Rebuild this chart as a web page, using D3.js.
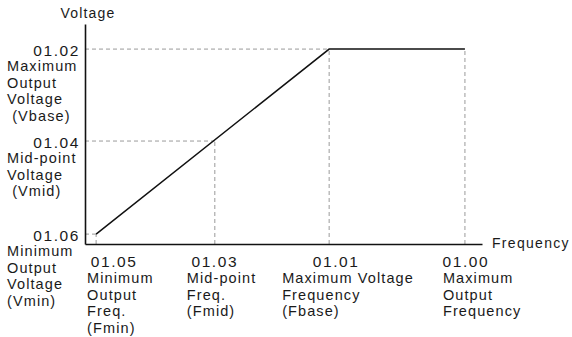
<!DOCTYPE html>
<html>
<head>
<meta charset="utf-8">
<script src="https://cdn.jsdelivr.net/npm/d3@7"></script>
<style>
  html, body { margin: 0; padding: 0; background: #fff; }
  svg { display: block; }
  text { font-family: "Liberation Sans", Arial, sans-serif; fill: #1a1a1a; }
</style>
</head>
<body>
<svg id="chart" width="572" height="337"></svg>
<script>
// ---- data ----
const freqCodes = ["01.05", "01.03", "01.01", "01.00"];
const freqValues = [2.8, 32.7, 61.5, 95.7];
const freqDesc = [
  ["Minimum", "Output", "Freq.", "(Fmin)"],
  ["Mid-point", "Freq.", "(Fmid)"],
  ["Maximum Voltage", "Frequency", "(Fbase)"],
  ["Maximum", "Output", "Frequency"]
];
const voltCodes = ["01.06", "01.04", "01.02"];
const voltValues = [4.5, 46.8, 88.6];
const voltDesc = [
  ["Minimum", "Output", "Voltage", "(Vmin)"],
  ["Mid-point", "Voltage", "(Vmid)"],
  ["Maximum", "Output", "Voltage", "(Vbase)"]
];
// V/f curve points: (frequency, voltage)
const curveFreq = [2.8, 61.5, 95.7];
const curveVolt = [4.5, 88.6, 88.6];
const xAxisTitle = "Frequency";
const yAxisTitle = "Voltage";

// ---- layout (not data) ----
const codeDx = [18, 0, 7, 1];       // horizontal shift of freq code label centers
const descDx = [-9, -28, -47, -22]; // left offset of freq description blocks

const svg = d3.select("#chart");
const x = d3.scaleLinear().domain([0, 100]).range([85, 482]);
const y = d3.scaleLinear().domain([0, 100]).range([244, 24]);

const dashColor = "#9a9a9a";

// dashed guide lines
const guides = svg.append("g")
  .attr("stroke", dashColor).attr("stroke-width", 1)
  .attr("stroke-dasharray", "4,3").attr("fill", "none");

voltValues.forEach((v, i) => {
  guides.append("line")
    .attr("x1", x(0)).attr("x2", x(freqValues[i]))
    .attr("y1", y(v)).attr("y2", y(v));
});
const vAt = [voltValues[0], voltValues[1], voltValues[2], voltValues[2]];
freqValues.forEach((f, i) => {
  guides.append("line")
    .attr("x1", x(f)).attr("x2", x(f))
    .attr("y1", y(0)).attr("y2", y(vAt[i]));
});

// axes (plain lines)
const xAxis = d3.axisBottom(x).tickValues([]).tickSize(0).tickSizeOuter(0);
const yAxis = d3.axisLeft(y).tickValues([]).tickSize(0).tickSizeOuter(0);
const gx = svg.append("g").attr("transform", `translate(0,${y(0)})`).call(xAxis);
const gy = svg.append("g").attr("transform", `translate(${x(0)},0)`).call(yAxis);
[gx, gy].forEach(g => g.select(".domain").attr("stroke", "#111").attr("stroke-width", 1.6));

// curve
const pts = curveFreq.map((f, i) => [f, curveVolt[i]]);
svg.append("path")
  .datum(pts)
  .attr("fill", "none").attr("stroke", "#111").attr("stroke-width", 1.5)
  .attr("d", d3.line().x(d => x(d[0])).y(d => y(d[1])));

// axis titles
svg.append("text").attr("x", 88).attr("y", 18).attr("text-anchor", "middle")
  .style("font-size", "14px").style("letter-spacing", "1.2px").text(yAxisTitle);
svg.append("text").attr("x", 492).attr("y", 248)
  .style("font-size", "14px").style("letter-spacing", "1.3px").text(xAxisTitle);

// voltage labels (left)
voltValues.forEach((v, i) => {
  const base = y(v) + 7;
  svg.append("text").attr("x", 80).attr("y", base).attr("text-anchor", "end")
    .style("font-size", "15.5px").style("letter-spacing", "1.6px").text(voltCodes[i]);
  voltDesc[i].forEach((line, j) => {
    svg.append("text").attr("x", 7).attr("y", base + 15 + j * 16.5)
      .style("font-size", "14.5px").style("letter-spacing", "1.1px")
      .attr("xml:space", "preserve")
      .text(line.startsWith("(") && i > 0 ? " " + line : line);
  });
});

// frequency labels (bottom)
freqValues.forEach((f, i) => {
  const cx = x(f);
  svg.append("text").attr("x", cx + codeDx[i]).attr("y", 267)
    .attr("text-anchor", "middle")
    .style("font-size", "15.5px").style("letter-spacing", "1.6px").text(freqCodes[i]);
  freqDesc[i].forEach((line, j) => {
    svg.append("text").attr("x", cx + descDx[i]).attr("y", 283 + j * 16.5)
      .style("font-size", "14.5px").style("letter-spacing", "1.1px").text(line);
  });
});
</script>
</body>
</html>
